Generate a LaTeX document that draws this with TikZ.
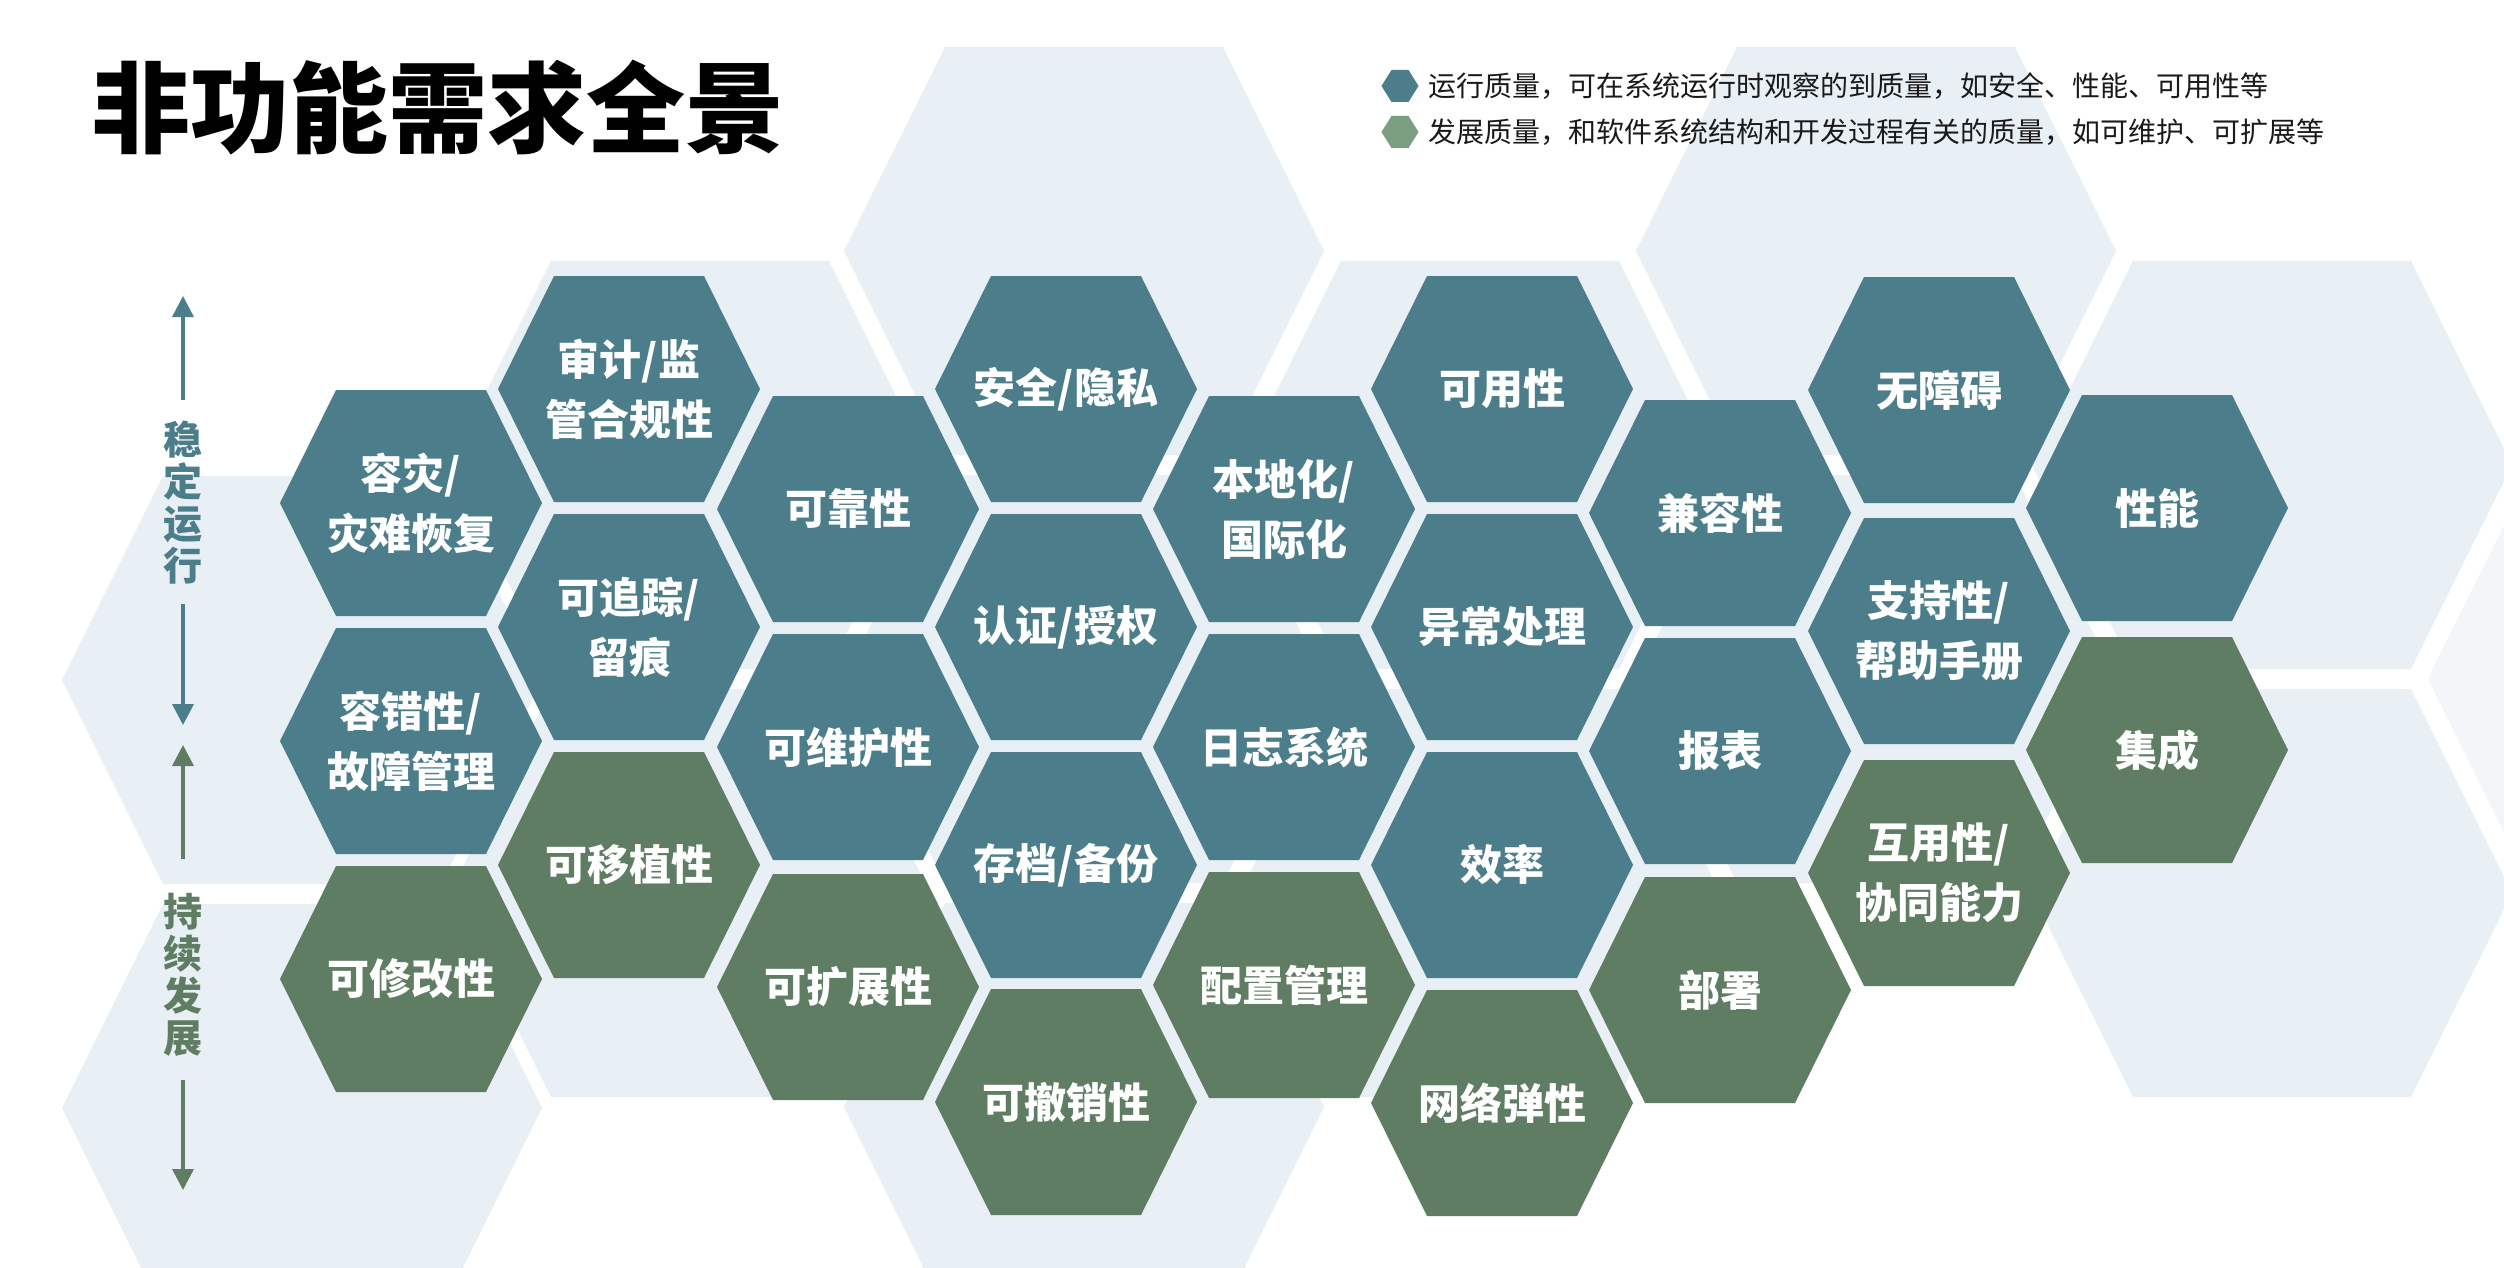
\documentclass[tikz,border=0pt]{standalone}
\usepackage{fontspec}
\newfontfamily\cjk{Noto Sans CJK SC}
\usetikzlibrary{arrows.meta}
\definecolor{tealhex}{HTML}{4B7E8A}
\definecolor{greenhex}{HTML}{5F7D63}
\definecolor{bghex}{HTML}{E8EFF5}
\definecolor{bgfaint}{HTML}{F3F6F9}
\definecolor{leggreen}{HTML}{7A9E7F}
\definecolor{legtext}{HTML}{1A1A1A}
\tikzset{
  hexlabel/.style={text=white, font=\cjk\bfseries\fontsize{42}{60}\selectfont, align=center, inner sep=0pt},
  legendtext/.style={anchor=west, text=legtext, font=\cjk\fontsize{28}{28}\selectfont, inner sep=0pt},
  sidelabel/.style={font=\cjk\bfseries\fontsize{39}{42}\selectfont, align=center, inner sep=0pt},
  axisarrow/.style={line width=3.5pt, -{Triangle[width=21pt,length=21pt]}},
}
\newcommand{\fghexcell}[5]{%
  \fill[#4] (#2-131,#3) -- (#2-75,#3-113) -- (#2+75,#3-113) -- (#2+131,#3) -- (#2+75,#3+113) -- (#2-75,#3+113) -- cycle;
  \node[hexlabel] (#1) at (#2,#3) {#5};}
\newcommand{\bghexcell}[4]{%
  \fill[#4] (#2-240,#3) -- (#2-139,#3-204) -- (#2+139,#3-204) -- (#2+240,#3) -- (#2+139,#3+204) -- (#2-139,#3+204) -- cycle;
  \coordinate (#1) at (#2,#3);}
\newcommand{\markerhex}[4]{%
  \fill[#4] (#2-18.5,#3) -- (#2-8.5,#3-16) -- (#2+8.5,#3-16) -- (#2+18.5,#3) -- (#2+8.5,#3+16) -- (#2-8.5,#3+16) -- cycle;
  \coordinate (#1) at (#2,#3);}
\begin{document}
\begin{tikzpicture}[x=1pt, y=-1pt]
\fill[white] (0,0) rectangle (2504,1268);
\useasboundingbox (0,0) rectangle (2504,1268);

% background honeycomb
\bghexcell{bgF}{302}{680}{bghex}
\bghexcell{bgG}{302}{1108}{bghex}
\bghexcell{bgH}{690}{465}{bghex}
\bghexcell{bgI}{690}{893}{bghex}
\bghexcell{bgA}{1084}{251}{bghex}
\bghexcell{bgJ}{1084}{679}{bghex}
\bghexcell{bgK}{1084}{1107}{bghex}
\bghexcell{bgL}{1480}{465}{bghex}
\bghexcell{bgM}{1480}{893}{bghex}
\bghexcell{bgB}{1876}{251}{bghex}
\bghexcell{bgN}{1876}{679}{bghex}
\bghexcell{bgC}{2272}{465}{bghex}
\bghexcell{bgD}{2272}{893}{bghex}
\bghexcell{bgE}{2668}{679}{bgfaint}

% foreground hexagons
\fghexcell{h11}{411}{503}{tealhex}{容灾/\\灾难恢复}
\fghexcell{h12}{411}{741}{tealhex}{容错性/\\故障管理}
\fghexcell{h13}{411}{979}{greenhex}{可修改性}

\fghexcell{h21}{629}{389}{tealhex}{审计/监\\管合规性}
\fghexcell{h22}{629}{627}{tealhex}{可追踪/\\留痕}
\fghexcell{h23}{629}{865}{greenhex}{可移植性}

\fghexcell{h31}{848}{509}{tealhex}{可靠性}
\fghexcell{h32}{848}{747}{tealhex}{可维护性}
\fghexcell{h33}{848}{987}{greenhex}{可扩展性}

\fghexcell{h41}{1066}{389}{tealhex}{安全/隐私}
\fghexcell{h42}{1066}{627}{tealhex}{认证/授权}
\fghexcell{h43}{1066}{865}{tealhex}{存档/备份}
\fghexcell{h44}{1066}{1102}{greenhex}{可撤销性}

\fghexcell{h51}{1284}{509}{tealhex}{本地化/\\国际化}
\fghexcell{h52}{1284}{747}{tealhex}{日志系统}
\fghexcell{h53}{1284}{985}{greenhex}{配置管理}

\fghexcell{h61}{1502}{389}{tealhex}{可用性}
\fghexcell{h62}{1502}{627}{tealhex}{异常处理}
\fghexcell{h63}{1502}{865}{tealhex}{效率}
\fghexcell{h64}{1502}{1103}{greenhex}{网络弹性}

\fghexcell{h71}{1720}{513}{tealhex}{兼容性}
\fghexcell{h72}{1720}{751}{tealhex}{报表}
\fghexcell{h73}{1720}{990}{greenhex}{部署}

\fghexcell{h81}{1939}{390}{tealhex}{无障碍}
\fghexcell{h82}{1939}{631}{tealhex}{支持性/\\帮助手册}
\fghexcell{h83}{1939}{873}{greenhex}{互用性/\\协同能力}

\fghexcell{h91}{2157}{508}{tealhex}{性能}
\fghexcell{h92}{2157}{750}{greenhex}{集成}

% title
\node[font=\cjk\bfseries\fontsize{99}{99}\selectfont, inner sep=0pt] (title) at (438,108) {非功能需求全景};

% legend
\markerhex{m1}{1400}{86}{tealhex}
\markerhex{m2}{1400}{132}{leggreen}
\node[legendtext] (leg1) at (1428,86) {运行质量，可在系统运行时观察的到质量，如安全、性能、可用性等};
\node[legendtext] (leg2) at (1428,132) {发展质量，和软件系统结构和开发过程有关的质量，如可维护、可扩展等};

% side axis
\node[sidelabel, text=tealhex] (stab) at (183,503) {稳\\定\\运\\行};
\node[sidelabel, text=greenhex] (grow) at (183,975) {持\\续\\发\\展};
\coordinate (s1a) at (183,400);
\coordinate (s1b) at (183,296);
\coordinate (s2a) at (183,604);
\coordinate (s2b) at (183,725);
\coordinate (g1a) at (183,859);
\coordinate (g1b) at (183,745);
\coordinate (g2a) at (183,1080);
\coordinate (g2b) at (183,1190);
\draw[axisarrow, draw=tealhex, fill=tealhex] (s1a) -- (s1b);
\draw[axisarrow, draw=tealhex, fill=tealhex] (s2a) -- (s2b);
\draw[axisarrow, draw=greenhex, fill=greenhex] (g1a) -- (g1b);
\draw[axisarrow, draw=greenhex, fill=greenhex] (g2a) -- (g2b);
\end{tikzpicture}
\end{document}
